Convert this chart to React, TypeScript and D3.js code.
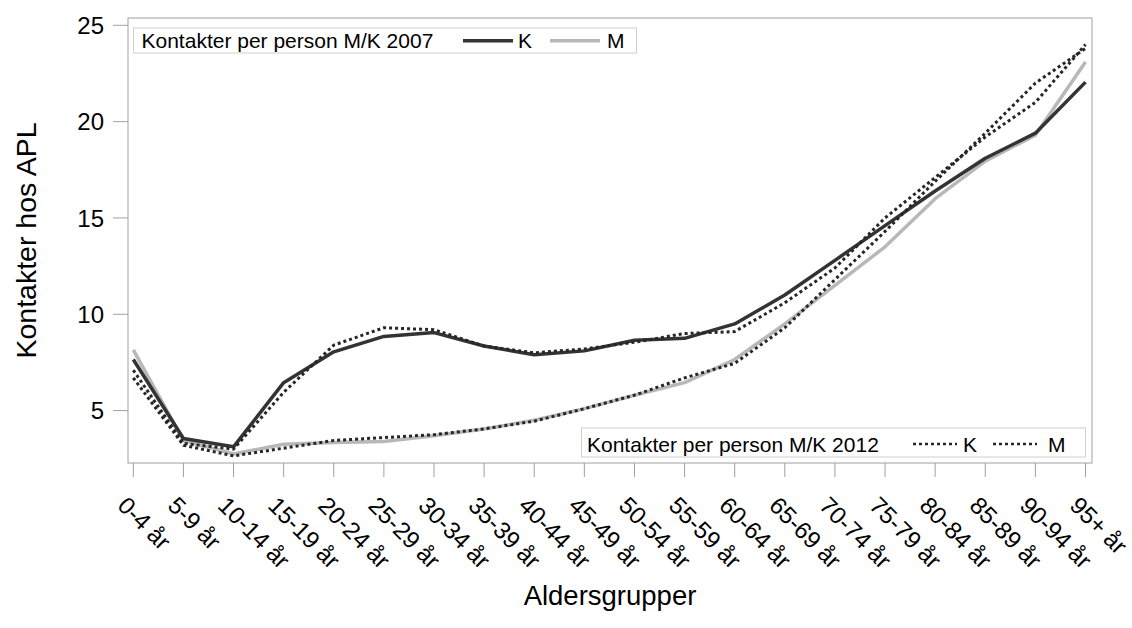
import React from "react";
import * as d3 from "d3";

const categories = ["0-4 år","5-9 år","10-14 år","15-19 år","20-24 år","25-29 år","30-34 år","35-39 år","40-44 år","45-49 år","50-54 år","55-59 år","60-64 år","65-69 år","70-74 år","75-79 år","80-84 år","85-89 år","90-94 år","95+ år"];
const k2007 = [7.65, 3.55, 3.12, 6.45, 8.05, 8.85, 9.05, 8.35, 7.9, 8.1, 8.65, 8.75, 9.5, 11.0, 12.8, 14.6, 16.4, 18.1, 19.4, 22.05];
const m2007 = [8.15, 3.45, 2.75, 3.25, 3.35, 3.4, 3.7, 4.05, 4.5, 5.1, 5.8, 6.45, 7.65, 9.5, 11.5, 13.5, 16.0, 17.95, 19.3, 23.1];
const k2012 = [7.1, 3.3, 3.0, 5.95, 8.4, 9.3, 9.2, 8.35, 8.0, 8.2, 8.55, 9.0, 9.1, 10.6, 12.4, 15.0, 17.1, 19.2, 21.0, 24.0];
const m2012 = [6.7, 3.2, 2.65, 3.05, 3.45, 3.6, 3.75, 4.05, 4.45, 5.1, 5.8, 6.7, 7.45, 9.3, 11.8, 14.3, 16.9, 19.4, 22.0, 23.8];
const yTicks = [5, 10, 15, 20, 25];

const FONT = "'Liberation Sans', Arial, Helvetica, sans-serif";

export default function App() {
  const W = 1132, H = 628;
  const frame = { x0: 128, x1: 1092, y0: 18, y1: 463 };
  const x = d3.scalePoint<string>().domain(categories).range([133.3, 1085.5]);
  const y = d3.scaleLinear().domain([5, 25]).range([410.6, 25.3]);
  const line = d3.line<number>().x((_, i) => x(categories[i]) as number).y((d) => y(d));

  const series = [
    { data: m2007, stroke: "#b8b8b8", width: 3.5, dash: undefined as string | undefined },
    { data: k2007, stroke: "#333333", width: 3.5, dash: undefined },
    { data: k2012, stroke: "#262626", width: 3, dash: "3,3" },
    { data: m2012, stroke: "#262626", width: 3, dash: "3,3" },
  ];

  return (
    <svg width={W} height={H} style={{ position: "absolute", left: 0, top: 0, background: "#fff" }} fontFamily={FONT}>
      <rect x={0} y={0} width={W} height={H} fill="#fff" />
      <rect x={frame.x0} y={frame.y0} width={frame.x1 - frame.x0} height={frame.y1 - frame.y0} fill="none" stroke="#a0a0a0" strokeWidth={1} />
      {yTicks.map((t) => (
        <g key={t}>
          <line x1={113} x2={frame.x0} y1={y(t)} y2={y(t)} stroke="#a0a0a0" />
          <text x={104} y={y(t)} dy="0.36em" textAnchor="end" fontSize={24} fill="#000">{t}</text>
        </g>
      ))}
      {categories.map((c) => (
        <g key={c}>
          <line x1={x(c)} x2={x(c)} y1={frame.y1} y2={477} stroke="#a0a0a0" />
          <text transform={`translate(${(x(c) as number) - 17},507) rotate(45)`} fontSize={24} fill="#000">{c}</text>
        </g>
      ))}
      {series.map((s, i) => (
        <path key={i} d={line(s.data) || ""} fill="none" stroke={s.stroke} strokeWidth={s.width} strokeDasharray={s.dash} strokeLinejoin="round" />
      ))}
      {/* legend 2007 */}
      <rect x={133.5} y={28} width={503} height={25} fill="#fff" stroke="#cfcfcf" />
      <text x={141.5} y={47.5} fontSize={21} fill="#000">Kontakter per person M/K 2007</text>
      <line x1={463} x2={513} y1={40.7} y2={40.7} stroke="#333" strokeWidth={3.5} />
      <text x={518} y={47.5} fontSize={21}>K</text>
      <line x1={550} x2={600} y1={40.7} y2={40.7} stroke="#b8b8b8" strokeWidth={3.5} />
      <text x={607} y={47.5} fontSize={21}>M</text>
      {/* legend 2012 */}
      <rect x={581.5} y={428} width={504} height={29} fill="#fff" stroke="#cfcfcf" />
      <text x={587} y={452} fontSize={21}>Kontakter per person M/K 2012</text>
      <line x1={913} x2={957} y1={444} y2={444} stroke="#262626" strokeWidth={2.5} strokeDasharray="3,3" />
      <text x={963} y={452} fontSize={21}>K</text>
      <line x1={993} x2={1037} y1={444} y2={444} stroke="#262626" strokeWidth={2.5} strokeDasharray="3,3" />
      <text x={1048} y={452} fontSize={21}>M</text>
      {/* axis titles */}
      <text transform={`translate(36,${(frame.y0 + frame.y1) / 2}) rotate(-90)`} textAnchor="middle" fontSize={28.5}>Kontakter hos APL</text>
      <text x={(frame.x0 + frame.x1) / 2} y={605} textAnchor="middle" fontSize={27.5}>Aldersgrupper</text>
    </svg>
  );
}
